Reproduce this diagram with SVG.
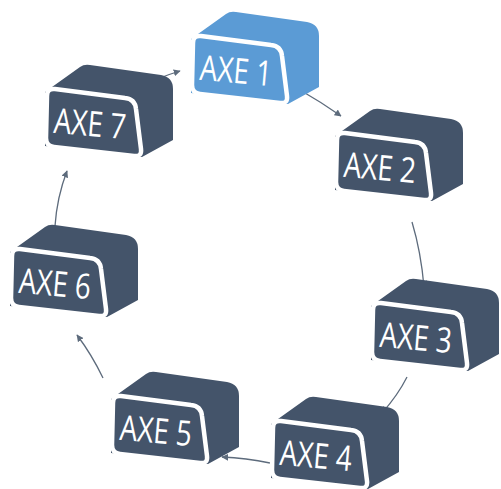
<svg xmlns="http://www.w3.org/2000/svg" xmlns:xlink="http://www.w3.org/1999/xlink" width="501" height="489" viewBox="0 0 501 489">
<style>
.dark{fill:#44546A}
.blue{fill:#5B9BD5}
.face{stroke:#ffffff;stroke-width:4.5;stroke-linejoin:round}
.lbl{fill:#ffffff;font-family:"Open Sans","Liberation Sans",sans-serif;font-size:35px;text-anchor:middle}
.conn{fill:none;stroke:#5d6b7c;stroke-width:1.3}
</style>
<defs>
<marker id="ah" viewBox="0 0 10 10" refX="9" refY="5" markerWidth="7" markerHeight="7" markerUnits="userSpaceOnUse" orient="auto">
<path d="M0,0 L10,5 L0,10 Z" fill="#5d6b7c"/>
</marker>
<path id="back" d="M-2,4 L33,-21 Q37,-24 43,-23 L114,-13 Q126,-11 126,1 L126,52 L95,69 L-2,58 Z"/>
<path id="front" d="M8,1 L78,10 Q88,11 89,21 L94,61 Q95,69 87,68 L7,59 Q-1,58 -1,50 L0,8 Q0,0 8,1 Z"/>
</defs>
<g id="connectors">
<path class="conn" d="M160,78 Q170,74 180,71" marker-end="url(#ah)"/>
<path class="conn" d="M300,90 Q321,102 341,116" marker-end="url(#ah)"/>
<path class="conn" d="M412,222 Q421,252 424,287" marker-end="url(#ah)"/>
<path class="conn" d="M407,377 Q398,395 382,413" marker-end="url(#ah)"/>
<path class="conn" d="M270,463 Q246,458 222,457" marker-end="url(#ah)"/>
<path class="conn" d="M103,378 Q92,355 77,335" marker-end="url(#ah)"/>
<path class="conn" d="M55,226 Q57,197 67,171" marker-end="url(#ah)"/>
</g>
<g id="axe1" transform="translate(193,35)">
<use xlink:href="#back" class="blue"/>
<use xlink:href="#front" class="blue face"/>
<text class="lbl" x="43" y="48" transform="rotate(5 43 35)" textLength="72" lengthAdjust="spacingAndGlyphs">AXE 1</text>
</g>
<g id="axe2" transform="translate(337,132)">
<use xlink:href="#back" class="dark"/>
<use xlink:href="#front" class="dark face"/>
<text class="lbl" x="43" y="48" transform="rotate(5 43 35)" textLength="72" lengthAdjust="spacingAndGlyphs">AXE 2</text>
</g>
<g id="axe3" transform="translate(373,302)">
<use xlink:href="#back" class="dark"/>
<use xlink:href="#front" class="dark face"/>
<text class="lbl" x="43" y="48" transform="rotate(5 43 35)" textLength="72" lengthAdjust="spacingAndGlyphs">AXE 3</text>
</g>
<g id="axe4" transform="translate(273,420)">
<use xlink:href="#back" class="dark"/>
<use xlink:href="#front" class="dark face"/>
<text class="lbl" x="43" y="48" transform="rotate(5 43 35)" textLength="72" lengthAdjust="spacingAndGlyphs">AXE 4</text>
</g>
<g id="axe5" transform="translate(113,395)">
<use xlink:href="#back" class="dark"/>
<use xlink:href="#front" class="dark face"/>
<text class="lbl" x="43" y="48" transform="rotate(5 43 35)" textLength="72" lengthAdjust="spacingAndGlyphs">AXE 5</text>
</g>
<g id="axe6" transform="translate(12,248)">
<use xlink:href="#back" class="dark"/>
<use xlink:href="#front" class="dark face"/>
<text class="lbl" x="43" y="48" transform="rotate(5 43 35)" textLength="72" lengthAdjust="spacingAndGlyphs">AXE 6</text>
</g>
<g id="axe7" transform="translate(47,88)">
<use xlink:href="#back" class="dark"/>
<use xlink:href="#front" class="dark face"/>
<text class="lbl" x="43" y="48" transform="rotate(5 43 35)" textLength="72" lengthAdjust="spacingAndGlyphs">AXE 7</text>
</g>
</svg>
